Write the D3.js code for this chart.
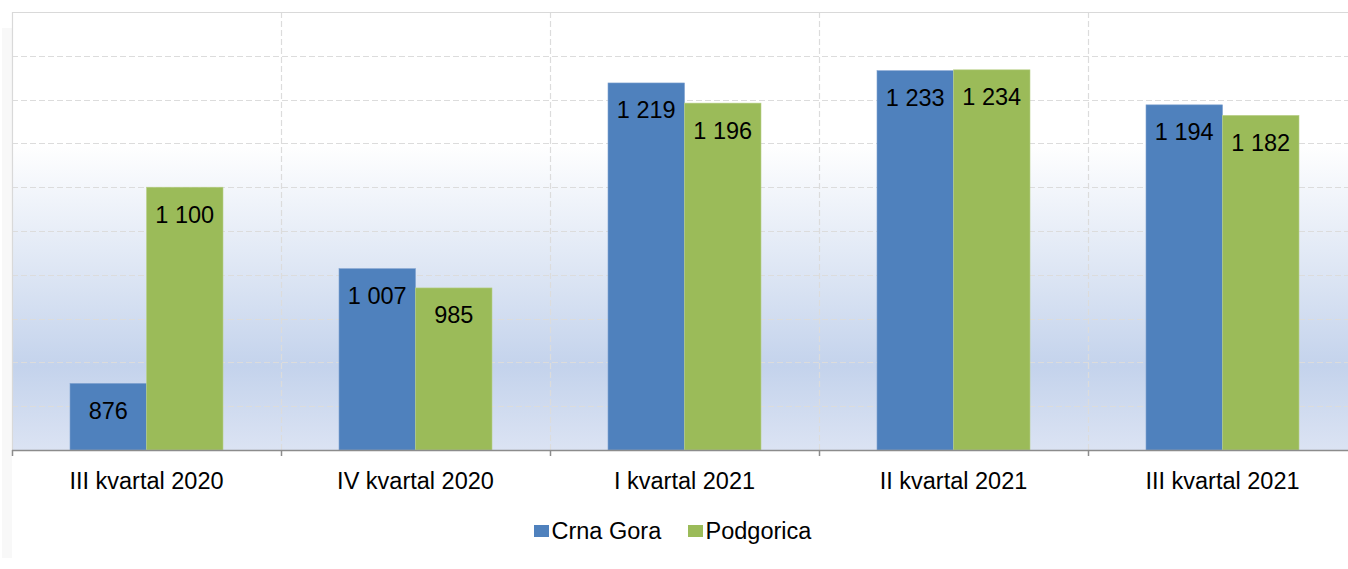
<!DOCTYPE html>
<html>
<head>
<meta charset="utf-8">
<script src="https://cdn.jsdelivr.net/npm/d3@7"></script>
<style>
  body { margin: 0; background: #fff; }
  text { font-family: "Liberation Sans", Arial, sans-serif; fill: #000; }
</style>
</head>
<body>
<script>
// data
var categories = ['III kvartal 2020', 'IV kvartal 2020', 'I kvartal 2021', 'II kvartal 2021', 'III kvartal 2021'];
var seriesNames = ['Crna Gora', 'Podgorica'];
var crnaGora = [876, 1007, 1219, 1233, 1194];
var podgorica = [1100, 985, 1196, 1234, 1182];
var colors = ['#4f81bd', '#9bbb59'];
var yTicks = [800, 850, 900, 950, 1000, 1050, 1100, 1150, 1200, 1250, 1300];

var svg = d3.select('body').append('svg')
  .attr('width', 1348)
  .attr('height', 569);

var plotLeft = 12, plotTop = 12, plotBottom = 450, catW = 269;

var x = d3.scaleBand()
  .domain(categories)
  .range([plotLeft, plotLeft + catW * categories.length])
  .padding(0);

var xSub = d3.scaleBand()
  .domain(seriesNames)
  .range([58, catW - 58])
  .padding(0);

var y = d3.scaleLinear()
  .domain([800, 1300])
  .range([plotBottom, plotTop]);

var fmt = d3.formatLocale({decimal: ',', thousands: ' ', grouping: [3], currency: ['', '']}).format(',');

// background gradient
var grad = svg.append('defs').append('linearGradient')
  .attr('id', 'bg')
  .attr('x1', 0).attr('y1', 0).attr('x2', 0).attr('y2', 1);
grad.append('stop').attr('offset', '0%').attr('stop-color', '#ffffff');
grad.append('stop').attr('offset', '30%').attr('stop-color', '#ffffff');
grad.append('stop').attr('offset', '81%').attr('stop-color', '#c4d3ec');
grad.append('stop').attr('offset', '100%').attr('stop-color', '#dbe3f3');

// faint shadow strip on the left
svg.append('rect')
  .attr('x', 2).attr('y', 28)
  .attr('width', plotLeft - 2).attr('height', 530)
  .attr('fill', '#f8f8f8');

svg.append('rect')
  .attr('x', plotLeft)
  .attr('y', plotTop)
  .attr('width', 1348 - plotLeft)
  .attr('height', plotBottom - plotTop)
  .attr('fill', 'url(#bg)');

// horizontal gridlines
svg.append('g').selectAll('line')
  .data(yTicks.slice(1, -1))
  .join('line')
  .attr('x1', plotLeft).attr('x2', 1348)
  .attr('y1', function(d) { return Math.round(y(d)) + 0.5; })
  .attr('y2', function(d) { return Math.round(y(d)) + 0.5; })
  .attr('stroke', '#dcdcdc')
  .attr('stroke-width', 1.2)
  .attr('stroke-dasharray', '6,3');

// vertical gridlines between categories
svg.append('g').selectAll('line')
  .data(categories.slice(1))
  .join('line')
  .attr('x1', function(d) { return Math.round(x(d)) + 0.5; })
  .attr('x2', function(d) { return Math.round(x(d)) + 0.5; })
  .attr('y1', plotTop).attr('y2', plotBottom)
  .attr('stroke', '#dcdcdc')
  .attr('stroke-width', 1.2)
  .attr('stroke-dasharray', '6,3');

// plot border top and left
svg.append('path')
  .attr('d', 'M' + (plotLeft + 0.5) + ',' + plotBottom + 'V' + (plotTop + 0.5) + 'H1348')
  .attr('fill', 'none')
  .attr('stroke', '#d9d9d9')
  .attr('stroke-width', 1.2);

// bars
var rows = categories.map(function(c, i) {
  return {cat: c, values: [crnaGora[i], podgorica[i]]};
});

var groups = svg.append('g').selectAll('g')
  .data(rows)
  .join('g')
  .attr('transform', function(d) { return 'translate(' + x(d.cat) + ',0)'; });

groups.selectAll('rect')
  .data(function(d) { return d.values.map(function(v, j) { return {name: seriesNames[j], v: v, j: j}; }); })
  .join('rect')
  .attr('x', function(d) { return xSub(d.name); })
  .attr('y', function(d) { return y(d.v); })
  .attr('width', xSub.bandwidth())
  .attr('height', function(d) { return plotBottom - y(d.v); })
  .attr('fill', function(d) { return colors[d.j]; })
  .attr('stroke', function(d) { return d.j == 0 ? '#7fa1cf' : '#b9d08a'; })
  .attr('stroke-width', 0.6);

groups.selectAll('text')
  .data(function(d) { return d.values.map(function(v, j) { return {name: seriesNames[j], v: v}; }); })
  .join('text')
  .attr('x', function(d) { return xSub(d.name) + xSub.bandwidth() / 2; })
  .attr('y', function(d) { return y(d.v) + 35.5; })
  .attr('text-anchor', 'middle')
  .attr('font-size', 23.5)
  .text(function(d) { return fmt(d.v); });

// x axis
svg.append('line')
  .attr('x1', plotLeft).attr('x2', 1348)
  .attr('y1', plotBottom + 0.5).attr('y2', plotBottom + 0.5)
  .attr('stroke', '#8c8c8c')
  .attr('stroke-width', 1.5);

svg.append('g').selectAll('line')
  .data(categories)
  .join('line')
  .attr('x1', function(d) { return Math.round(x(d)) + 0.5; })
  .attr('x2', function(d) { return Math.round(x(d)) + 0.5; })
  .attr('y1', plotBottom).attr('y2', plotBottom + 6)
  .attr('stroke', '#8c8c8c')
  .attr('stroke-width', 1.5);

svg.append('g').selectAll('text')
  .data(categories)
  .join('text')
  .attr('x', function(d) { return x(d) + x.bandwidth() / 2; })
  .attr('y', 488.5)
  .attr('text-anchor', 'middle')
  .attr('font-size', 23.5)
  .text(function(d) { return d; });

// legend
var legendX = [534, 688];
var legend = svg.append('g').selectAll('g')
  .data(seriesNames)
  .join('g')
  .attr('transform', function(d, i) { return 'translate(' + legendX[i] + ',0)'; });

legend.append('rect')
  .attr('x', 0).attr('y', 525)
  .attr('width', 15).attr('height', 12)
  .attr('fill', function(d, i) { return colors[i]; });

legend.append('text')
  .attr('x', 17.5).attr('y', 539)
  .attr('font-size', 23.5)
  .text(function(d) { return d; });
</script>
</body>
</html>
